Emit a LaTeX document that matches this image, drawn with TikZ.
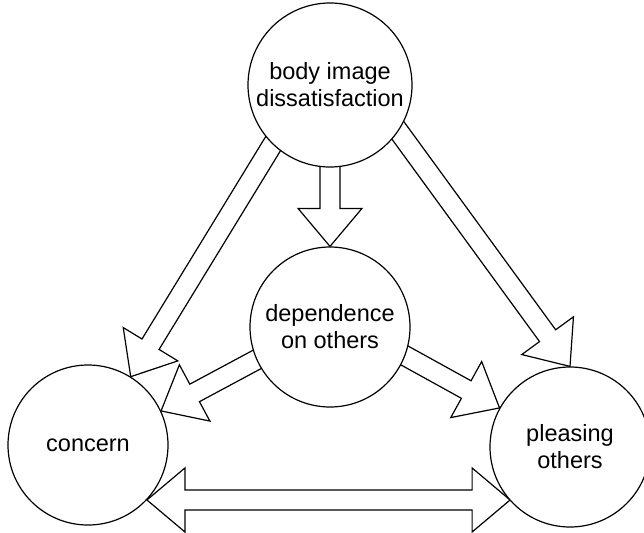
\documentclass[tikz,border=0pt]{standalone}
\usepackage{fontspec}
\setmainfont{Liberation Sans}
\usepackage{tikz}
\usetikzlibrary{positioning,calc,backgrounds}

\tikzset{
	factor/.style={circle, draw, fill=white, line width=1.2pt, inner sep=0pt, minimum size=160pt, align=center, font=\fontsize{23.5}{27}\selectfont},
	% hollow block arrow, start point pulled a bit into the source circle
	blockarrow/.style={line width=1.2pt, fill=white, line join=miter, to path={
		let \p1=($(\tikztotarget)-(\tikztostart)$), \n1={atan2(\y1,\x1)}, \n2={veclen(\x1,\y1)} in
		++(\n1+180:6pt) ++(\n1+90:10pt) -- ++(\n1:\n2-32pt) -- ++(\n1+90:22pt) -- (\tikztotarget)
		-- ($(\tikztotarget)+(\n1+180:38pt)+(\n1-90:32pt)$) -- ++(\n1+90:22pt) -- ++(\n1+180:\n2-32pt) -- cycle}},
	% hollow block arrow with a head at both ends
	twowayarrow/.style={line width=1.2pt, fill=white, line join=miter, to path={
		let \p1=($(\tikztotarget)-(\tikztostart)$), \n1={atan2(\y1,\x1)}, \n2={veclen(\x1,\y1)} in
		-- ($(\tikztostart)+(\n1:38pt)+(\n1+90:32pt)$) -- ++(\n1-90:22pt) -- ++(\n1:\n2-76pt) -- ++(\n1+90:22pt) -- (\tikztotarget)
		-- ($(\tikztotarget)+(\n1+180:38pt)+(\n1-90:32pt)$) -- ++(\n1+90:22pt) -- ++(\n1+180:\n2-76pt) -- ++(\n1-90:22pt) -- cycle}},
}

\begin{document}
\begin{tikzpicture}[x=1pt,y=-1pt]
	\useasboundingbox (0,0) rectangle (644,532);
	% circles
	\node[factor, minimum size=164pt] (body) at (330,85) {body image\\dissatisfaction};
	\node[factor] (dependence) at (330,327) {dependence\\on others};
	\node[factor] (concern) at (88,445) {concern};
	\node[factor] (pleasing) at (570,447) {pleasing\\others};
	% arrows, kept under the circles
	\begin{scope}[on background layer]
		\draw[blockarrow] (body.south) to (dependence.north);
		\draw[blockarrow] (body.-134) to (concern.58);
		\draw[blockarrow] (body.-34) to (pleasing.north);
		\draw[blockarrow] (dependence.-156) to (concern.25);
		\draw[blockarrow] (dependence.-21) to (pleasing.151);
		\draw[twowayarrow] (concern.-43) to (pleasing.-138 |- concern.-43);
	\end{scope}
\end{tikzpicture}
\end{document}
